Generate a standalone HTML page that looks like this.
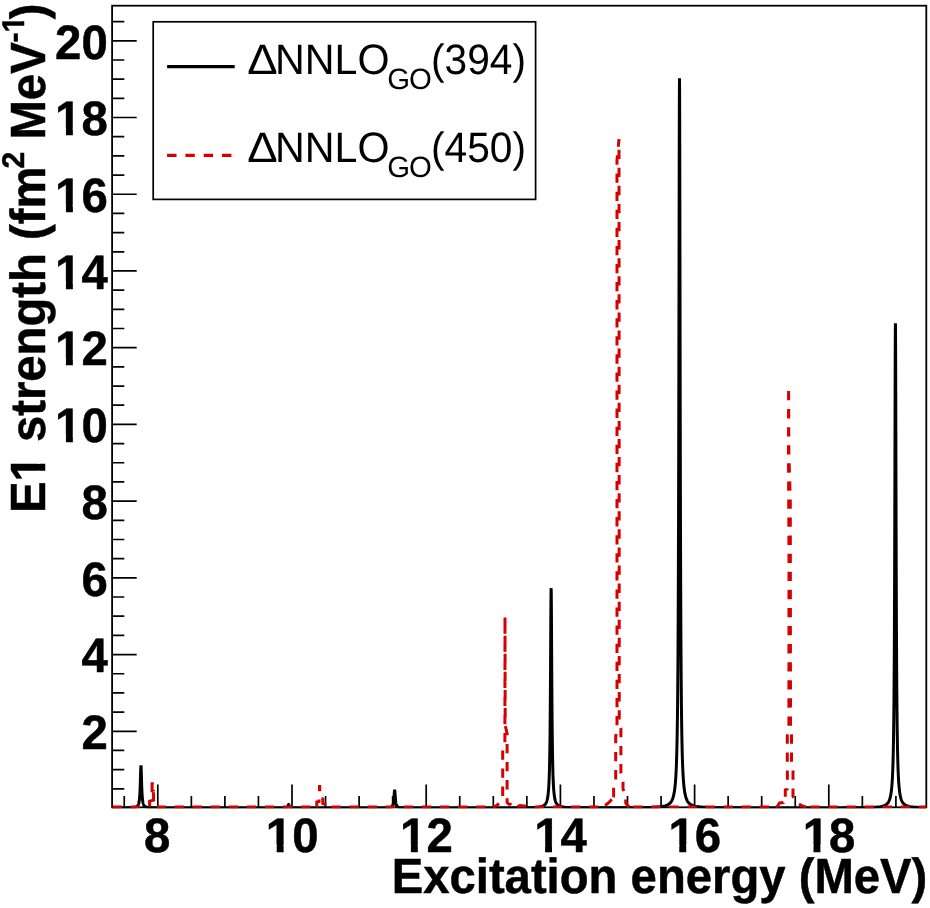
<!DOCTYPE html>
<html lang="en"><head><meta charset="utf-8"><title>E1 strength</title>
<style>
html,body{margin:0;padding:0;background:#fff;}
body{width:930px;height:908px;overflow:hidden;}
svg{display:block;will-change:transform;}
text{font-family:"Liberation Sans",Arial,Helvetica,sans-serif;fill:#000;text-rendering:geometricPrecision;}
.b{font-weight:700;}
</style></head><body>
<svg width="930" height="908" viewBox="0 0 930 908">
<rect x="0" y="0" width="930" height="908" fill="#fff"/>
<g stroke="#000" fill="none">
<rect x="112.10" y="5.70" width="814.20" height="801.60" stroke-width="1.80"/>
<path d="M124.25 807.30V796.10M157.80 807.30V784.50M191.35 807.30V796.10M224.90 807.30V796.10M258.45 807.30V796.10M292.00 807.30V784.50M325.55 807.30V796.10M359.10 807.30V796.10M392.65 807.30V796.10M426.20 807.30V784.50M459.75 807.30V796.10M493.30 807.30V796.10M526.85 807.30V796.10M560.40 807.30V784.50M593.95 807.30V796.10M627.50 807.30V796.10M661.05 807.30V796.10M694.60 807.30V784.50M728.15 807.30V796.10M761.70 807.30V796.10M795.25 807.30V796.10M828.80 807.30V784.50M862.35 807.30V796.10M895.90 807.30V796.10M112.10 788.82H124.30M112.10 769.64H124.30M112.10 750.46H124.30M112.10 731.28H136.70M112.10 712.10H124.30M112.10 692.92H124.30M112.10 673.74H124.30M112.10 654.56H136.70M112.10 635.38H124.30M112.10 616.20H124.30M112.10 597.02H124.30M112.10 577.84H136.70M112.10 558.66H124.30M112.10 539.48H124.30M112.10 520.30H124.30M112.10 501.12H136.70M112.10 481.94H124.30M112.10 462.76H124.30M112.10 443.58H124.30M112.10 424.40H136.70M112.10 405.22H124.30M112.10 386.04H124.30M112.10 366.86H124.30M112.10 347.68H136.70M112.10 328.50H124.30M112.10 309.32H124.30M112.10 290.14H124.30M112.10 270.96H136.70M112.10 251.78H124.30M112.10 232.60H124.30M112.10 213.42H124.30M112.10 194.24H136.70M112.10 175.06H124.30M112.10 155.88H124.30M112.10 136.70H124.30M112.10 117.52H136.70M112.10 98.34H124.30M112.10 79.16H124.30M112.10 59.98H124.30M112.10 40.80H136.70M112.10 21.62H124.30" stroke-width="1.7"/>
</g>
<clipPath id="cp"><rect x="111.20" y="4.80" width="816.00" height="803.45"/></clipPath>
<g fill="none" stroke-linejoin="miter" stroke-miterlimit="2" clip-path="url(#cp)">
<path d="M112.10 807.97 L113.10 807.96 L114.10 807.96 L115.10 807.96 L116.10 807.96 L117.10 807.95 L118.10 807.95 L119.10 807.94 L120.10 807.94 L121.10 807.93 L122.10 807.92 L123.10 807.92 L124.10 807.91 L125.10 807.89 L126.10 807.88 L126.96 807.87 L127.06 807.86 L127.10 807.86 L127.16 807.86 L127.26 807.86 L127.36 807.86 L127.46 807.86 L127.56 807.85 L127.66 807.85 L127.76 807.85 L127.86 807.85 L127.96 807.84 L128.06 807.84 L128.10 807.84 L128.16 807.84 L128.26 807.84 L128.36 807.84 L128.46 807.83 L128.56 807.83 L128.66 807.83 L128.76 807.82 L128.86 807.82 L128.96 807.82 L129.06 807.82 L129.10 807.81 L129.16 807.81 L129.26 807.81 L129.36 807.81 L129.46 807.80 L129.56 807.80 L129.66 807.80 L129.76 807.79 L129.86 807.79 L129.96 807.78 L130.06 807.78 L130.10 807.78 L130.16 807.78 L130.26 807.77 L130.36 807.77 L130.46 807.76 L130.56 807.76 L130.66 807.76 L130.76 807.75 L130.86 807.75 L130.96 807.74 L131.06 807.74 L131.10 807.73 L131.16 807.73 L131.26 807.72 L131.36 807.72 L131.46 807.71 L131.56 807.71 L131.66 807.70 L131.76 807.69 L131.86 807.69 L131.96 807.68 L132.06 807.67 L132.10 807.67 L132.16 807.67 L132.26 807.66 L132.36 807.65 L132.46 807.64 L132.56 807.63 L132.66 807.63 L132.76 807.62 L132.86 807.61 L132.96 807.60 L133.06 807.59 L133.10 807.58 L133.16 807.58 L133.26 807.57 L133.36 807.56 L133.46 807.54 L133.56 807.53 L133.66 807.52 L133.76 807.51 L133.86 807.49 L133.96 807.48 L134.06 807.46 L134.10 807.46 L134.16 807.45 L134.26 807.43 L134.36 807.41 L134.46 807.40 L134.56 807.38 L134.66 807.36 L134.76 807.34 L134.86 807.31 L134.96 807.29 L135.06 807.27 L135.10 807.26 L135.16 807.24 L135.26 807.22 L135.36 807.19 L135.46 807.16 L135.56 807.13 L135.66 807.10 L135.76 807.06 L135.86 807.03 L135.96 806.99 L136.06 806.95 L136.10 806.93 L136.16 806.91 L136.26 806.86 L136.36 806.81 L136.46 806.76 L136.56 806.70 L136.66 806.65 L136.76 806.58 L136.86 806.52 L136.96 806.44 L137.06 806.37 L137.10 806.33 L137.16 806.28 L137.26 806.19 L137.36 806.10 L137.46 805.99 L137.56 805.88 L137.66 805.75 L137.76 805.62 L137.86 805.47 L137.96 805.31 L138.06 805.14 L138.10 805.06 L138.16 804.94 L138.26 804.73 L138.36 804.49 L138.46 804.23 L138.56 803.94 L138.66 803.62 L138.76 803.26 L138.86 802.85 L138.96 802.40 L139.06 801.88 L139.10 801.64 L139.16 801.29 L139.26 800.62 L139.36 799.85 L139.46 798.96 L139.56 797.94 L139.66 796.76 L139.76 795.39 L139.86 793.79 L139.96 791.93 L140.06 789.77 L140.10 788.77 L140.16 787.29 L140.26 784.45 L140.36 781.28 L140.46 777.85 L140.56 774.31 L140.66 770.92 L140.76 768.05 L140.86 766.11 L140.96 765.42 L141.06 766.11 L141.10 766.79 L141.16 768.06 L141.26 770.93 L141.36 774.32 L141.46 777.86 L141.56 781.29 L141.66 784.46 L141.76 787.29 L141.86 789.78 L141.96 791.93 L142.06 793.79 L142.10 794.49 L142.16 795.39 L142.26 796.76 L142.36 797.94 L142.46 798.96 L142.56 799.85 L142.66 800.62 L142.76 801.29 L142.86 801.88 L142.96 802.40 L143.06 802.85 L143.10 803.03 L143.16 803.26 L143.26 803.62 L143.36 803.94 L143.46 804.23 L143.56 804.49 L143.66 804.73 L143.76 804.94 L143.86 805.14 L143.96 805.31 L144.06 805.47 L144.10 805.54 L144.16 805.62 L144.26 805.75 L144.36 805.88 L144.46 805.99 L144.56 806.10 L144.66 806.19 L144.76 806.28 L144.86 806.37 L144.96 806.44 L145.06 806.52 L145.10 806.54 L145.16 806.58 L145.26 806.65 L145.36 806.70 L145.46 806.76 L145.56 806.81 L145.66 806.86 L145.76 806.91 L145.86 806.95 L145.96 806.99 L146.06 807.03 L146.10 807.04 L146.16 807.06 L146.26 807.10 L146.36 807.13 L146.46 807.16 L146.56 807.19 L146.66 807.22 L146.76 807.24 L146.86 807.27 L146.96 807.29 L147.06 807.31 L147.10 807.32 L147.16 807.34 L147.26 807.36 L147.36 807.38 L147.46 807.39 L147.56 807.41 L147.66 807.43 L147.76 807.45 L147.86 807.46 L147.96 807.48 L148.06 807.49 L148.10 807.50 L148.16 807.50 L148.26 807.52 L148.36 807.53 L148.46 807.54 L148.56 807.55 L148.66 807.57 L148.76 807.58 L148.86 807.59 L148.96 807.60 L149.06 807.61 L149.10 807.61 L149.16 807.62 L149.26 807.63 L149.36 807.63 L149.46 807.64 L149.56 807.65 L149.66 807.66 L149.76 807.67 L149.86 807.67 L149.96 807.68 L150.06 807.69 L150.10 807.69 L150.16 807.69 L150.26 807.70 L150.36 807.71 L150.46 807.71 L150.56 807.72 L150.66 807.72 L150.76 807.73 L150.86 807.74 L150.96 807.74 L151.06 807.75 L151.10 807.75 L151.16 807.75 L151.26 807.75 L151.36 807.76 L151.46 807.76 L151.56 807.77 L151.66 807.77 L151.76 807.78 L151.86 807.78 L151.96 807.78 L152.06 807.79 L152.10 807.79 L152.16 807.79 L152.26 807.80 L152.36 807.80 L152.46 807.80 L152.56 807.81 L152.66 807.81 L152.76 807.81 L152.86 807.82 L152.96 807.82 L153.06 807.82 L153.10 807.82 L153.16 807.82 L153.26 807.83 L153.36 807.83 L153.46 807.83 L153.56 807.83 L153.66 807.84 L153.76 807.84 L153.86 807.84 L153.96 807.84 L154.06 807.85 L154.10 807.85 L154.16 807.85 L154.26 807.85 L154.36 807.85 L154.46 807.86 L154.56 807.86 L154.66 807.86 L154.76 807.86 L154.86 807.86 L154.96 807.87 L155.10 807.87 L156.10 807.88 L157.10 807.90 L158.10 807.91 L159.10 807.92 L160.10 807.93 L161.10 807.93 L162.10 807.94 L163.10 807.94 L164.10 807.95 L165.10 807.95 L166.10 807.96 L167.10 807.96 L168.10 807.96 L169.10 807.96 L170.10 807.97 L171.10 807.97 L172.10 807.97 L173.10 807.97 L174.10 807.97 L175.10 807.97 L176.10 807.98 L177.10 807.98 L178.10 807.98 L179.10 807.98 L180.10 807.98 L181.10 807.98 L182.10 807.98 L183.10 807.98 L184.10 807.98 L185.10 807.98 L186.10 807.98 L187.10 807.98 L188.10 807.98 L189.10 807.98 L190.10 807.99 L191.10 807.99 L192.10 807.99 L193.10 807.99 L194.10 807.99 L195.10 807.99 L196.10 807.99 L197.10 807.99 L198.10 807.99 L199.10 807.99 L200.10 807.99 L201.10 807.99 L202.10 807.99 L203.10 807.99 L204.10 807.99 L205.10 807.99 L206.10 807.99 L207.10 807.99 L208.10 807.99 L209.10 807.99 L210.10 807.99 L211.10 807.99 L212.10 807.99 L213.10 807.99 L214.10 807.99 L215.10 807.99 L216.10 807.99 L217.10 807.99 L218.10 807.99 L219.10 807.99 L220.10 807.99 L221.10 807.99 L222.10 807.99 L223.10 807.99 L224.10 807.99 L225.10 807.99 L226.10 807.99 L227.10 807.99 L228.10 807.99 L229.10 807.99 L230.10 807.99 L231.10 807.99 L232.10 807.99 L233.10 807.99 L234.10 807.99 L235.10 807.99 L236.10 807.99 L237.10 807.99 L238.10 807.99 L239.10 807.99 L240.10 807.99 L241.10 807.99 L242.10 807.99 L243.10 807.99 L244.10 807.99 L245.10 807.99 L246.10 807.99 L247.10 807.99 L248.10 807.99 L249.10 807.99 L250.10 807.99 L251.10 807.99 L252.10 807.99 L253.10 807.99 L254.10 807.99 L255.10 807.99 L256.10 807.99 L257.10 807.99 L258.10 807.99 L259.10 807.99 L260.10 807.99 L261.10 807.99 L262.10 807.99 L263.10 807.99 L264.10 807.99 L265.10 807.99 L266.10 807.99 L267.10 807.99 L268.10 807.99 L269.10 807.99 L270.10 807.99 L271.10 807.99 L272.10 807.99 L273.10 807.98 L274.10 807.98 L274.64 807.98 L274.75 807.98 L274.85 807.98 L274.94 807.98 L275.05 807.98 L275.10 807.98 L275.14 807.98 L275.25 807.98 L275.35 807.98 L275.44 807.98 L275.55 807.98 L275.64 807.98 L275.75 807.98 L275.85 807.98 L275.94 807.98 L276.05 807.98 L276.10 807.98 L276.14 807.98 L276.25 807.98 L276.35 807.98 L276.44 807.98 L276.55 807.98 L276.64 807.98 L276.75 807.98 L276.85 807.98 L276.94 807.98 L277.05 807.98 L277.10 807.98 L277.14 807.98 L277.25 807.98 L277.35 807.98 L277.44 807.98 L277.55 807.98 L277.64 807.98 L277.75 807.98 L277.85 807.97 L277.94 807.97 L278.05 807.97 L278.10 807.97 L278.14 807.97 L278.25 807.97 L278.35 807.97 L278.44 807.97 L278.55 807.97 L278.64 807.97 L278.75 807.97 L278.85 807.97 L278.94 807.97 L279.05 807.97 L279.10 807.97 L279.14 807.97 L279.25 807.97 L279.35 807.97 L279.44 807.97 L279.55 807.97 L279.64 807.97 L279.75 807.97 L279.85 807.97 L279.94 807.97 L280.05 807.96 L280.10 807.96 L280.14 807.96 L280.25 807.96 L280.35 807.96 L280.44 807.96 L280.55 807.96 L280.64 807.96 L280.75 807.96 L280.85 807.96 L280.94 807.96 L281.05 807.96 L281.10 807.96 L281.14 807.96 L281.25 807.95 L281.35 807.95 L281.44 807.95 L281.55 807.95 L281.64 807.95 L281.75 807.95 L281.85 807.95 L281.94 807.95 L282.05 807.95 L282.10 807.94 L282.14 807.94 L282.25 807.94 L282.35 807.94 L282.44 807.94 L282.55 807.94 L282.64 807.94 L282.75 807.93 L282.85 807.93 L282.94 807.93 L283.05 807.93 L283.10 807.93 L283.14 807.92 L283.25 807.92 L283.35 807.92 L283.44 807.92 L283.55 807.91 L283.64 807.91 L283.75 807.91 L283.85 807.90 L283.94 807.90 L284.05 807.90 L284.10 807.89 L284.14 807.89 L284.25 807.89 L284.35 807.88 L284.44 807.88 L284.55 807.87 L284.64 807.87 L284.75 807.86 L284.85 807.85 L284.94 807.85 L285.05 807.84 L285.10 807.83 L285.14 807.83 L285.25 807.82 L285.35 807.81 L285.44 807.80 L285.55 807.79 L285.64 807.77 L285.75 807.76 L285.85 807.74 L285.94 807.73 L286.05 807.71 L286.10 807.70 L286.14 807.69 L286.25 807.66 L286.35 807.64 L286.44 807.61 L286.55 807.58 L286.64 807.54 L286.75 807.50 L286.85 807.45 L286.94 807.39 L287.05 807.33 L287.10 807.29 L287.14 807.26 L287.25 807.18 L287.35 807.08 L287.44 806.97 L287.55 806.84 L287.64 806.69 L287.75 806.51 L287.85 806.31 L287.94 806.08 L288.05 805.83 L288.10 805.68 L288.14 805.55 L288.25 805.26 L288.35 804.99 L288.44 804.75 L288.55 804.60 L288.64 804.54 L288.75 804.60 L288.85 804.75 L288.94 804.99 L289.05 805.26 L289.10 805.42 L289.14 805.55 L289.25 805.83 L289.35 806.08 L289.44 806.31 L289.55 806.51 L289.64 806.69 L289.75 806.84 L289.85 806.97 L289.94 807.08 L290.05 807.18 L290.10 807.22 L290.14 807.26 L290.25 807.33 L290.35 807.39 L290.44 807.45 L290.55 807.50 L290.64 807.54 L290.75 807.58 L290.85 807.61 L290.94 807.64 L291.05 807.66 L291.10 807.68 L291.14 807.69 L291.25 807.71 L291.35 807.73 L291.44 807.74 L291.55 807.76 L291.64 807.77 L291.75 807.79 L291.85 807.80 L291.94 807.81 L292.05 807.82 L292.10 807.83 L292.14 807.83 L292.25 807.84 L292.35 807.85 L292.44 807.85 L292.55 807.86 L292.64 807.87 L292.75 807.87 L292.85 807.88 L292.94 807.88 L293.05 807.89 L293.10 807.89 L293.14 807.89 L293.25 807.90 L293.35 807.90 L293.44 807.90 L293.55 807.91 L293.64 807.91 L293.75 807.91 L293.85 807.92 L293.94 807.92 L294.05 807.92 L294.10 807.92 L294.14 807.92 L294.25 807.93 L294.35 807.93 L294.44 807.93 L294.55 807.93 L294.64 807.93 L294.75 807.94 L294.85 807.94 L294.94 807.94 L295.05 807.94 L295.10 807.94 L295.14 807.94 L295.25 807.94 L295.35 807.95 L295.44 807.95 L295.55 807.95 L295.64 807.95 L295.75 807.95 L295.85 807.95 L295.94 807.95 L296.05 807.95 L296.10 807.95 L296.14 807.96 L296.25 807.96 L296.35 807.96 L296.44 807.96 L296.55 807.96 L296.64 807.96 L296.75 807.96 L296.85 807.96 L296.94 807.96 L297.05 807.96 L297.10 807.96 L297.14 807.96 L297.25 807.96 L297.35 807.96 L297.44 807.97 L297.55 807.97 L297.64 807.97 L297.75 807.97 L297.85 807.97 L297.94 807.97 L298.05 807.97 L298.10 807.97 L298.14 807.97 L298.25 807.97 L298.35 807.97 L298.44 807.97 L298.55 807.97 L298.64 807.97 L298.75 807.97 L298.85 807.97 L298.94 807.97 L299.05 807.97 L299.10 807.97 L299.14 807.97 L299.25 807.97 L299.35 807.97 L299.44 807.97 L299.55 807.97 L299.64 807.97 L299.75 807.97 L299.85 807.98 L299.94 807.98 L300.05 807.98 L300.10 807.98 L300.14 807.98 L300.25 807.98 L300.35 807.98 L300.44 807.98 L300.55 807.98 L300.64 807.98 L300.75 807.98 L300.85 807.98 L300.94 807.98 L301.05 807.98 L301.10 807.98 L301.14 807.98 L301.25 807.98 L301.35 807.98 L301.44 807.98 L301.55 807.98 L301.64 807.98 L301.75 807.98 L301.85 807.98 L301.94 807.98 L302.05 807.98 L302.10 807.98 L302.14 807.98 L302.25 807.98 L302.35 807.98 L302.44 807.98 L302.55 807.98 L302.64 807.98 L303.10 807.98 L304.10 807.98 L305.10 807.98 L306.10 807.98 L307.10 807.99 L308.10 807.99 L309.10 807.99 L310.10 807.99 L311.10 807.99 L312.10 807.99 L313.10 807.99 L314.10 807.99 L315.10 807.99 L316.10 807.99 L317.10 807.99 L318.10 807.99 L319.10 807.99 L320.10 807.99 L321.10 807.99 L322.10 807.99 L323.10 807.99 L324.10 807.99 L325.10 807.99 L326.10 807.99 L327.10 807.99 L328.10 807.99 L329.10 807.99 L330.10 807.99 L331.10 807.99 L332.10 807.99 L333.10 807.99 L334.10 807.99 L335.10 807.99 L336.10 807.99 L337.10 807.99 L338.10 807.99 L339.10 807.99 L340.10 807.99 L341.10 807.99 L342.10 807.99 L343.10 807.99 L344.10 807.99 L345.10 807.99 L346.10 807.99 L347.10 807.99 L348.10 807.99 L349.10 807.99 L350.10 807.99 L351.10 807.98 L352.10 807.98 L353.10 807.98 L354.10 807.98 L355.10 807.98 L356.10 807.98 L357.10 807.98 L358.10 807.98 L359.10 807.98 L360.10 807.98 L361.10 807.98 L362.10 807.98 L363.10 807.98 L364.10 807.98 L365.10 807.98 L366.10 807.98 L367.10 807.98 L368.10 807.97 L369.10 807.97 L370.10 807.97 L371.10 807.97 L372.10 807.97 L373.10 807.97 L374.10 807.96 L375.10 807.96 L376.10 807.96 L377.10 807.95 L378.10 807.95 L379.10 807.94 L380.10 807.94 L380.66 807.93 L380.76 807.93 L380.86 807.93 L380.96 807.93 L381.06 807.93 L381.10 807.93 L381.16 807.93 L381.26 807.93 L381.36 807.93 L381.46 807.93 L381.56 807.93 L381.66 807.92 L381.76 807.92 L381.86 807.92 L381.96 807.92 L382.06 807.92 L382.10 807.92 L382.16 807.92 L382.26 807.92 L382.36 807.92 L382.46 807.92 L382.56 807.91 L382.66 807.91 L382.76 807.91 L382.86 807.91 L382.96 807.91 L383.06 807.91 L383.10 807.91 L383.16 807.91 L383.26 807.90 L383.36 807.90 L383.46 807.90 L383.56 807.90 L383.66 807.90 L383.76 807.90 L383.86 807.90 L383.96 807.89 L384.06 807.89 L384.10 807.89 L384.16 807.89 L384.26 807.89 L384.36 807.89 L384.46 807.88 L384.56 807.88 L384.66 807.88 L384.76 807.88 L384.86 807.88 L384.96 807.87 L385.06 807.87 L385.10 807.87 L385.16 807.87 L385.26 807.87 L385.36 807.86 L385.46 807.86 L385.56 807.86 L385.66 807.85 L385.76 807.85 L385.86 807.85 L385.96 807.85 L386.06 807.84 L386.10 807.84 L386.16 807.84 L386.26 807.83 L386.36 807.83 L386.46 807.83 L386.56 807.82 L386.66 807.82 L386.76 807.81 L386.86 807.81 L386.96 807.81 L387.06 807.80 L387.10 807.80 L387.16 807.80 L387.26 807.79 L387.36 807.79 L387.46 807.78 L387.56 807.77 L387.66 807.77 L387.76 807.76 L387.86 807.75 L387.96 807.75 L388.06 807.74 L388.10 807.74 L388.16 807.73 L388.26 807.73 L388.36 807.72 L388.46 807.71 L388.56 807.70 L388.66 807.69 L388.76 807.68 L388.86 807.67 L388.96 807.66 L389.06 807.65 L389.10 807.64 L389.16 807.63 L389.26 807.62 L389.36 807.61 L389.46 807.59 L389.56 807.58 L389.66 807.56 L389.76 807.54 L389.86 807.53 L389.96 807.51 L390.06 807.49 L390.10 807.48 L390.16 807.46 L390.26 807.44 L390.36 807.42 L390.46 807.39 L390.56 807.36 L390.66 807.33 L390.76 807.30 L390.86 807.26 L390.96 807.22 L391.06 807.18 L391.10 807.17 L391.16 807.14 L391.26 807.09 L391.36 807.04 L391.46 806.98 L391.56 806.92 L391.66 806.85 L391.76 806.78 L391.86 806.69 L391.96 806.60 L392.06 806.50 L392.10 806.47 L392.16 806.39 L392.26 806.27 L392.36 806.13 L392.46 805.98 L392.56 805.81 L392.66 805.62 L392.76 805.40 L392.86 805.15 L392.96 804.86 L393.06 804.54 L393.10 804.40 L393.16 804.16 L393.26 803.73 L393.36 803.23 L393.46 802.65 L393.56 801.97 L393.66 801.19 L393.76 800.27 L393.86 799.22 L393.96 798.02 L394.06 796.68 L394.10 796.15 L394.16 795.22 L394.26 793.72 L394.36 792.29 L394.46 791.07 L394.56 790.25 L394.66 789.96 L394.76 790.25 L394.86 791.07 L394.96 792.29 L395.06 793.72 L395.10 794.28 L395.16 795.22 L395.26 796.68 L395.36 798.02 L395.46 799.22 L395.56 800.27 L395.66 801.19 L395.76 801.97 L395.86 802.65 L395.96 803.23 L396.06 803.73 L396.10 803.90 L396.16 804.16 L396.26 804.54 L396.36 804.86 L396.46 805.15 L396.56 805.40 L396.66 805.62 L396.76 805.81 L396.86 805.98 L396.96 806.13 L397.06 806.27 L397.10 806.32 L397.16 806.39 L397.26 806.50 L397.36 806.60 L397.46 806.69 L397.56 806.78 L397.66 806.85 L397.76 806.92 L397.86 806.98 L397.96 807.04 L398.06 807.09 L398.10 807.11 L398.16 807.14 L398.26 807.18 L398.36 807.22 L398.46 807.26 L398.56 807.30 L398.66 807.33 L398.76 807.36 L398.86 807.39 L398.96 807.41 L399.06 807.44 L399.10 807.45 L399.16 807.46 L399.26 807.49 L399.36 807.51 L399.46 807.52 L399.56 807.54 L399.66 807.56 L399.76 807.58 L399.86 807.59 L399.96 807.61 L400.06 807.62 L400.10 807.62 L400.16 807.63 L400.26 807.65 L400.36 807.66 L400.46 807.67 L400.56 807.68 L400.66 807.69 L400.76 807.70 L400.86 807.71 L400.96 807.72 L401.06 807.72 L401.10 807.73 L401.16 807.73 L401.26 807.74 L401.36 807.75 L401.46 807.75 L401.56 807.76 L401.66 807.77 L401.76 807.77 L401.86 807.78 L401.96 807.78 L402.06 807.79 L402.10 807.79 L402.16 807.79 L402.26 807.80 L402.36 807.80 L402.46 807.81 L402.56 807.81 L402.66 807.82 L402.76 807.82 L402.86 807.83 L402.96 807.83 L403.06 807.83 L403.10 807.83 L403.16 807.84 L403.26 807.84 L403.36 807.84 L403.46 807.85 L403.56 807.85 L403.66 807.85 L403.76 807.86 L403.86 807.86 L403.96 807.86 L404.06 807.86 L404.10 807.86 L404.16 807.87 L404.26 807.87 L404.36 807.87 L404.46 807.87 L404.56 807.88 L404.66 807.88 L404.76 807.88 L404.86 807.88 L404.96 807.88 L405.06 807.89 L405.10 807.89 L405.16 807.89 L405.26 807.89 L405.36 807.89 L405.46 807.89 L405.56 807.89 L405.66 807.90 L405.76 807.90 L405.86 807.90 L405.96 807.90 L406.06 807.90 L406.10 807.90 L406.16 807.90 L406.26 807.91 L406.36 807.91 L406.46 807.91 L406.56 807.91 L406.66 807.91 L406.76 807.91 L406.86 807.91 L406.96 807.91 L407.06 807.92 L407.10 807.92 L407.16 807.92 L407.26 807.92 L407.36 807.92 L407.46 807.92 L407.56 807.92 L407.66 807.92 L407.76 807.92 L407.86 807.92 L407.96 807.92 L408.06 807.93 L408.10 807.93 L408.16 807.93 L408.26 807.93 L408.36 807.93 L408.46 807.93 L408.56 807.93 L408.66 807.93 L409.10 807.93 L410.10 807.94 L411.10 807.94 L412.10 807.95 L413.10 807.95 L414.10 807.96 L415.10 807.96 L416.10 807.96 L417.10 807.96 L418.10 807.96 L419.10 807.97 L420.10 807.97 L421.10 807.97 L422.10 807.97 L423.10 807.97 L424.10 807.97 L425.10 807.97 L426.10 807.97 L427.10 807.97 L428.10 807.97 L429.10 807.97 L430.10 807.97 L431.10 807.97 L432.10 807.97 L433.10 807.97 L434.10 807.97 L435.10 807.97 L436.10 807.97 L437.10 807.97 L438.10 807.97 L439.10 807.97 L440.10 807.97 L441.10 807.97 L442.10 807.97 L443.10 807.97 L444.10 807.97 L445.10 807.97 L446.10 807.97 L447.10 807.97 L448.10 807.97 L449.10 807.97 L450.10 807.97 L451.10 807.97 L452.10 807.97 L453.10 807.97 L454.10 807.97 L455.10 807.97 L456.10 807.97 L457.10 807.97 L458.10 807.97 L459.10 807.97 L460.10 807.97 L461.10 807.97 L462.10 807.97 L463.10 807.97 L464.10 807.97 L465.10 807.97 L466.10 807.97 L467.10 807.97 L468.10 807.97 L469.10 807.97 L470.10 807.97 L471.10 807.97 L472.10 807.96 L473.10 807.96 L474.10 807.96 L475.10 807.96 L476.10 807.96 L477.10 807.96 L478.10 807.96 L479.10 807.96 L480.10 807.96 L481.10 807.96 L482.10 807.96 L483.10 807.96 L484.10 807.96 L485.10 807.95 L486.10 807.95 L487.10 807.95 L488.10 807.95 L489.10 807.95 L490.10 807.95 L491.10 807.95 L492.10 807.95 L493.10 807.94 L494.10 807.94 L495.10 807.94 L496.10 807.94 L497.10 807.94 L498.10 807.94 L499.10 807.93 L500.10 807.93 L501.10 807.93 L502.10 807.93 L503.10 807.93 L504.10 807.92 L505.10 807.92 L506.10 807.92 L507.10 807.91 L508.10 807.91 L509.10 807.91 L510.10 807.90 L511.10 807.90 L512.10 807.89 L513.10 807.89 L514.10 807.88 L515.10 807.88 L516.10 807.87 L517.10 807.87 L518.10 807.86 L519.10 807.85 L520.10 807.84 L521.10 807.83 L522.10 807.82 L523.10 807.81 L524.10 807.80 L525.10 807.78 L526.10 807.77 L527.10 807.75 L528.10 807.73 L529.10 807.70 L530.10 807.68 L531.10 807.65 L532.10 807.61 L533.10 807.57 L534.10 807.52 L535.10 807.46 L536.10 807.39 L537.10 807.30 L537.14 807.30 L537.24 807.29 L537.34 807.28 L537.44 807.27 L537.54 807.26 L537.64 807.25 L537.74 807.24 L537.84 807.22 L537.94 807.21 L538.04 807.20 L538.10 807.19 L538.14 807.19 L538.24 807.18 L538.34 807.17 L538.44 807.15 L538.54 807.14 L538.64 807.13 L538.74 807.11 L538.84 807.10 L538.94 807.08 L539.04 807.07 L539.10 807.06 L539.14 807.05 L539.24 807.04 L539.34 807.02 L539.44 807.01 L539.54 806.99 L539.64 806.97 L539.74 806.95 L539.84 806.94 L539.94 806.92 L540.04 806.90 L540.10 806.89 L540.14 806.88 L540.24 806.86 L540.34 806.84 L540.44 806.82 L540.54 806.80 L540.64 806.77 L540.74 806.75 L540.84 806.73 L540.94 806.70 L541.04 806.68 L541.10 806.66 L541.14 806.65 L541.24 806.62 L541.34 806.60 L541.44 806.57 L541.54 806.54 L541.64 806.51 L541.74 806.48 L541.84 806.44 L541.94 806.41 L542.04 806.38 L542.10 806.36 L542.14 806.34 L542.24 806.31 L542.34 806.27 L542.44 806.23 L542.54 806.19 L542.64 806.15 L542.74 806.10 L542.84 806.06 L542.94 806.01 L543.04 805.96 L543.10 805.93 L543.14 805.91 L543.24 805.86 L543.34 805.81 L543.44 805.75 L543.54 805.69 L543.64 805.63 L543.74 805.57 L543.84 805.50 L543.94 805.43 L544.04 805.36 L544.10 805.32 L544.14 805.29 L544.24 805.21 L544.34 805.13 L544.44 805.05 L544.54 804.96 L544.64 804.87 L544.74 804.77 L544.84 804.67 L544.94 804.56 L545.04 804.45 L545.10 804.38 L545.14 804.33 L545.24 804.21 L545.34 804.08 L545.44 803.95 L545.54 803.81 L545.64 803.66 L545.74 803.50 L545.84 803.33 L545.94 803.16 L546.04 802.97 L546.10 802.85 L546.14 802.77 L546.24 802.56 L546.34 802.34 L546.44 802.11 L546.54 801.85 L546.64 801.59 L546.74 801.30 L546.84 801.00 L546.94 800.67 L547.04 800.33 L547.10 800.11 L547.14 799.95 L547.24 799.55 L547.34 799.12 L547.44 798.66 L547.54 798.16 L547.64 797.61 L547.74 797.03 L547.84 796.39 L547.94 795.69 L548.04 794.94 L548.10 794.45 L548.14 794.11 L548.24 793.20 L548.34 792.21 L548.44 791.11 L548.54 789.89 L548.64 788.55 L548.74 787.06 L548.84 785.39 L548.94 783.52 L549.04 781.43 L549.10 780.04 L549.14 779.06 L549.24 776.39 L549.34 773.35 L549.44 769.89 L549.54 765.92 L549.64 761.35 L549.74 756.08 L549.84 749.98 L549.94 742.89 L550.04 734.65 L550.10 729.07 L550.14 725.07 L550.24 713.94 L550.34 701.11 L550.44 686.48 L550.54 670.13 L550.64 652.41 L550.74 634.12 L550.84 616.63 L550.94 601.81 L551.04 591.75 L551.10 588.75 L551.14 588.17 L551.24 591.72 L551.34 601.76 L551.44 616.56 L551.54 634.05 L551.64 652.34 L551.74 670.06 L551.84 686.42 L551.94 701.05 L552.04 713.89 L552.10 720.77 L552.14 725.02 L552.24 734.62 L552.34 742.86 L552.44 749.95 L552.54 756.06 L552.64 761.33 L552.74 765.90 L552.84 769.87 L552.94 773.34 L553.04 776.38 L553.10 778.02 L553.14 779.05 L553.24 781.42 L553.34 783.51 L553.44 785.38 L553.54 787.05 L553.64 788.54 L553.74 789.89 L553.84 791.10 L553.94 792.20 L554.04 793.20 L554.10 793.75 L554.14 794.10 L554.24 794.93 L554.34 795.69 L554.44 796.38 L554.54 797.02 L554.64 797.61 L554.74 798.15 L554.84 798.65 L554.94 799.12 L555.04 799.55 L555.10 799.79 L555.14 799.95 L555.24 800.32 L555.34 800.67 L555.44 800.99 L555.54 801.30 L555.64 801.58 L555.74 801.85 L555.84 802.10 L555.94 802.34 L556.04 802.56 L556.10 802.68 L556.14 802.77 L556.24 802.96 L556.34 803.15 L556.44 803.33 L556.54 803.49 L556.64 803.65 L556.74 803.80 L556.84 803.94 L556.94 804.08 L557.04 804.21 L557.10 804.28 L557.14 804.33 L557.24 804.45 L557.34 804.56 L557.44 804.66 L557.54 804.76 L557.64 804.86 L557.74 804.95 L557.84 805.04 L557.94 805.12 L558.04 805.20 L558.10 805.25 L558.14 805.28 L558.24 805.36 L558.34 805.43 L558.44 805.50 L558.54 805.56 L558.64 805.62 L558.74 805.68 L558.84 805.74 L558.94 805.80 L559.04 805.85 L559.10 805.88 L559.14 805.91 L559.24 805.96 L559.34 806.00 L559.44 806.05 L559.54 806.09 L559.64 806.14 L559.74 806.18 L559.84 806.22 L559.94 806.26 L560.04 806.30 L560.10 806.32 L560.14 806.33 L560.24 806.37 L560.34 806.40 L560.44 806.44 L560.54 806.47 L560.64 806.50 L560.74 806.53 L560.84 806.56 L560.94 806.59 L561.04 806.61 L561.10 806.63 L561.14 806.64 L561.24 806.67 L561.34 806.69 L561.44 806.72 L561.54 806.74 L561.64 806.76 L561.74 806.79 L561.84 806.81 L561.94 806.83 L562.04 806.85 L562.10 806.86 L562.14 806.87 L562.24 806.89 L562.34 806.91 L562.44 806.93 L562.54 806.94 L562.64 806.96 L562.74 806.98 L562.84 807.00 L562.94 807.01 L563.04 807.03 L563.10 807.04 L563.14 807.04 L563.24 807.06 L563.34 807.07 L563.44 807.09 L563.54 807.10 L563.64 807.11 L563.74 807.13 L563.84 807.14 L563.94 807.15 L564.04 807.17 L564.10 807.17 L564.14 807.18 L564.24 807.19 L564.34 807.20 L564.44 807.21 L564.54 807.22 L564.64 807.23 L564.74 807.25 L564.84 807.26 L564.94 807.27 L565.04 807.28 L565.10 807.28 L565.14 807.29 L566.10 807.37 L567.10 807.44 L568.10 807.50 L569.10 807.55 L570.10 807.59 L571.10 807.63 L572.10 807.66 L573.10 807.68 L574.10 807.70 L575.10 807.72 L576.10 807.74 L577.10 807.76 L578.10 807.77 L579.10 807.78 L580.10 807.79 L581.10 807.80 L582.10 807.81 L583.10 807.82 L584.10 807.83 L585.10 807.83 L586.10 807.84 L587.10 807.84 L588.10 807.85 L589.10 807.85 L590.10 807.85 L591.10 807.86 L592.10 807.86 L593.10 807.86 L594.10 807.86 L595.10 807.87 L596.10 807.87 L597.10 807.87 L598.10 807.87 L599.10 807.87 L600.10 807.87 L601.10 807.87 L602.10 807.87 L603.10 807.87 L604.10 807.87 L605.10 807.87 L606.10 807.87 L607.10 807.87 L608.10 807.87 L609.10 807.87 L610.10 807.87 L611.10 807.86 L612.10 807.86 L613.10 807.86 L614.10 807.86 L615.10 807.86 L616.10 807.85 L617.10 807.85 L618.10 807.85 L619.10 807.85 L620.10 807.84 L621.10 807.84 L622.10 807.84 L623.10 807.83 L624.10 807.83 L625.10 807.82 L626.10 807.82 L627.10 807.81 L628.10 807.81 L629.10 807.80 L630.10 807.79 L631.10 807.79 L632.10 807.78 L633.10 807.77 L634.10 807.76 L635.10 807.75 L636.10 807.74 L637.10 807.73 L638.10 807.72 L639.10 807.71 L640.10 807.69 L641.10 807.68 L642.10 807.66 L643.10 807.65 L644.10 807.63 L645.10 807.61 L646.10 807.58 L647.10 807.56 L648.10 807.53 L649.10 807.50 L650.10 807.47 L651.10 807.43 L652.10 807.39 L653.10 807.35 L654.10 807.30 L655.10 807.24 L656.10 807.18 L657.10 807.10 L658.10 807.02 L659.10 806.92 L660.10 806.81 L661.10 806.68 L662.10 806.53 L663.10 806.34 L664.10 806.13 L665.10 805.86 L665.50 805.74 L665.60 805.70 L665.70 805.67 L665.80 805.64 L665.90 805.60 L666.00 805.57 L666.10 805.53 L666.10 805.53 L666.20 805.49 L666.30 805.46 L666.40 805.42 L666.50 805.38 L666.60 805.34 L666.70 805.30 L666.80 805.25 L666.90 805.21 L667.00 805.17 L667.10 805.12 L667.10 805.12 L667.20 805.07 L667.30 805.03 L667.40 804.98 L667.50 804.93 L667.60 804.88 L667.70 804.82 L667.80 804.77 L667.90 804.71 L668.00 804.66 L668.10 804.60 L668.10 804.60 L668.20 804.54 L668.30 804.48 L668.40 804.41 L668.50 804.35 L668.60 804.28 L668.70 804.21 L668.80 804.14 L668.90 804.07 L669.00 804.00 L669.10 803.92 L669.10 803.92 L669.20 803.84 L669.30 803.76 L669.40 803.68 L669.50 803.59 L669.60 803.50 L669.70 803.41 L669.80 803.32 L669.90 803.22 L670.00 803.12 L670.10 803.02 L670.10 803.02 L670.20 802.91 L670.30 802.80 L670.40 802.68 L670.50 802.57 L670.60 802.45 L670.70 802.32 L670.80 802.19 L670.90 802.06 L671.00 801.92 L671.10 801.78 L671.10 801.77 L671.20 801.62 L671.30 801.47 L671.40 801.31 L671.50 801.14 L671.60 800.97 L671.70 800.79 L671.80 800.60 L671.90 800.41 L672.00 800.21 L672.10 800.01 L672.10 800.00 L672.20 799.78 L672.30 799.56 L672.40 799.32 L672.50 799.07 L672.60 798.82 L672.70 798.55 L672.80 798.27 L672.90 797.97 L673.00 797.67 L673.10 797.36 L673.10 797.35 L673.20 797.02 L673.30 796.66 L673.40 796.29 L673.50 795.91 L673.60 795.50 L673.70 795.08 L673.80 794.63 L673.90 794.15 L674.00 793.66 L674.10 793.15 L674.10 793.13 L674.20 792.58 L674.30 791.99 L674.40 791.37 L674.50 790.72 L674.60 790.02 L674.70 789.30 L674.80 788.50 L674.90 787.67 L675.00 786.79 L675.10 785.87 L675.10 785.85 L675.20 784.84 L675.30 783.75 L675.40 782.60 L675.50 781.36 L675.60 780.04 L675.70 778.61 L675.80 777.06 L675.90 775.39 L676.00 773.59 L676.10 771.70 L676.10 771.66 L676.20 769.55 L676.30 767.22 L676.40 764.70 L676.50 761.95 L676.60 758.97 L676.70 755.67 L676.80 751.98 L676.90 747.95 L677.00 743.49 L677.10 738.68 L677.10 738.57 L677.20 733.04 L677.30 726.78 L677.40 719.82 L677.50 711.97 L677.60 703.09 L677.70 693.10 L677.80 681.48 L677.90 668.29 L678.00 653.12 L678.10 636.18 L678.10 635.62 L678.20 615.56 L678.30 591.80 L678.40 564.41 L678.50 532.55 L678.60 495.59 L678.70 453.41 L678.80 404.36 L678.90 350.04 L679.00 291.20 L679.10 232.32 L679.10 230.51 L679.20 173.02 L679.30 123.35 L679.40 90.11 L679.50 78.38 L679.60 90.34 L679.70 123.35 L679.80 173.02 L679.90 231.11 L680.00 291.80 L680.10 348.90 L680.10 350.61 L680.20 404.36 L680.30 453.41 L680.40 495.98 L680.50 532.89 L680.60 564.70 L680.70 591.80 L680.80 615.56 L680.90 635.81 L681.00 653.29 L681.10 668.01 L681.10 668.43 L681.20 681.48 L681.30 693.10 L681.40 703.18 L681.50 712.06 L681.60 719.90 L681.70 726.78 L681.80 733.04 L681.90 738.57 L682.00 743.53 L682.10 747.87 L682.10 748.00 L682.20 751.98 L682.30 755.67 L682.40 758.97 L682.50 761.98 L682.60 764.73 L682.70 767.22 L682.80 769.55 L682.90 771.66 L683.00 773.61 L683.10 775.36 L683.10 775.41 L683.20 777.06 L683.30 778.61 L683.40 780.04 L683.50 781.37 L683.60 782.61 L683.70 783.75 L683.80 784.84 L683.90 785.85 L684.00 786.80 L684.10 787.66 L684.10 787.68 L684.20 788.51 L684.30 789.30 L684.40 790.03 L684.50 790.73 L684.60 791.37 L684.70 791.99 L684.80 792.58 L684.90 793.14 L685.00 793.66 L685.10 794.15 L685.10 794.16 L685.20 794.63 L685.30 795.08 L685.40 795.51 L685.50 795.91 L685.60 796.29 L685.70 796.66 L685.80 797.02 L685.90 797.35 L686.00 797.67 L686.10 797.97 L686.10 797.98 L686.20 798.27 L686.30 798.55 L686.40 798.82 L686.50 799.08 L686.60 799.32 L686.70 799.56 L686.80 799.79 L686.90 800.00 L687.00 800.21 L687.10 800.41 L687.10 800.41 L687.20 800.60 L687.30 800.79 L687.40 800.97 L687.50 801.14 L687.60 801.31 L687.70 801.47 L687.80 801.63 L687.90 801.78 L688.00 801.92 L688.10 802.05 L688.10 802.06 L688.20 802.19 L688.30 802.32 L688.40 802.45 L688.50 802.57 L688.60 802.69 L688.70 802.80 L688.80 802.91 L688.90 803.02 L689.00 803.12 L689.10 803.22 L689.10 803.22 L689.20 803.32 L689.30 803.41 L689.40 803.50 L689.50 803.59 L689.60 803.68 L689.70 803.76 L689.80 803.84 L689.90 803.92 L690.00 804.00 L690.10 804.07 L690.10 804.07 L690.20 804.15 L690.30 804.22 L690.40 804.28 L690.50 804.35 L690.60 804.42 L690.70 804.48 L690.80 804.54 L690.90 804.60 L691.00 804.66 L691.10 804.71 L691.10 804.72 L691.20 804.77 L691.30 804.83 L691.40 804.88 L691.50 804.93 L691.60 804.98 L691.70 805.03 L691.80 805.08 L691.90 805.12 L692.00 805.17 L692.10 805.21 L692.10 805.21 L692.20 805.26 L692.30 805.30 L692.40 805.34 L692.50 805.38 L692.60 805.42 L692.70 805.46 L692.80 805.50 L692.90 805.53 L693.00 805.57 L693.10 805.60 L693.10 805.60 L693.20 805.64 L693.30 805.67 L693.40 805.71 L693.50 805.74 L694.10 805.92 L695.10 806.17 L696.10 806.38 L697.10 806.56 L698.10 806.71 L699.10 806.84 L700.10 806.95 L701.10 807.04 L702.10 807.12 L703.10 807.19 L704.10 807.26 L705.10 807.31 L706.10 807.36 L707.10 807.41 L708.10 807.45 L709.10 807.48 L710.10 807.51 L711.10 807.54 L712.10 807.57 L713.10 807.59 L714.10 807.62 L715.10 807.64 L716.10 807.66 L717.10 807.67 L718.10 807.69 L719.10 807.70 L720.10 807.72 L721.10 807.73 L722.10 807.74 L723.10 807.75 L724.10 807.76 L725.10 807.77 L726.10 807.78 L727.10 807.79 L728.10 807.80 L729.10 807.81 L730.10 807.81 L731.10 807.82 L732.10 807.83 L733.10 807.83 L734.10 807.84 L735.10 807.84 L736.10 807.85 L737.10 807.85 L738.10 807.86 L739.10 807.86 L740.10 807.86 L741.10 807.87 L742.10 807.87 L743.10 807.87 L744.10 807.88 L745.10 807.88 L746.10 807.88 L747.10 807.89 L748.10 807.89 L749.10 807.89 L750.10 807.89 L751.10 807.90 L752.10 807.90 L753.10 807.90 L754.10 807.90 L755.10 807.90 L756.10 807.91 L757.10 807.91 L758.10 807.91 L759.10 807.91 L760.10 807.91 L761.10 807.91 L762.10 807.92 L763.10 807.92 L764.10 807.92 L765.10 807.92 L766.10 807.92 L767.10 807.92 L768.10 807.92 L769.10 807.92 L770.10 807.92 L771.10 807.93 L772.10 807.93 L773.10 807.93 L774.10 807.93 L775.10 807.93 L776.10 807.93 L777.10 807.93 L778.10 807.93 L779.10 807.93 L780.10 807.93 L781.10 807.93 L782.10 807.93 L783.10 807.93 L784.10 807.93 L785.10 807.93 L786.10 807.93 L787.10 807.93 L788.10 807.93 L789.10 807.93 L790.10 807.93 L791.10 807.94 L792.10 807.94 L793.10 807.94 L794.10 807.94 L795.10 807.94 L796.10 807.94 L797.10 807.94 L798.10 807.94 L799.10 807.94 L800.10 807.94 L801.10 807.93 L802.10 807.93 L803.10 807.93 L804.10 807.93 L805.10 807.93 L806.10 807.93 L807.10 807.93 L808.10 807.93 L809.10 807.93 L810.10 807.93 L811.10 807.93 L812.10 807.93 L813.10 807.93 L814.10 807.93 L815.10 807.93 L816.10 807.93 L817.10 807.93 L818.10 807.93 L819.10 807.92 L820.10 807.92 L821.10 807.92 L822.10 807.92 L823.10 807.92 L824.10 807.92 L825.10 807.92 L826.10 807.92 L827.10 807.91 L828.10 807.91 L829.10 807.91 L830.10 807.91 L831.10 807.91 L832.10 807.91 L833.10 807.90 L834.10 807.90 L835.10 807.90 L836.10 807.90 L837.10 807.89 L838.10 807.89 L839.10 807.89 L840.10 807.89 L841.10 807.88 L842.10 807.88 L843.10 807.87 L844.10 807.87 L845.10 807.87 L846.10 807.86 L847.10 807.86 L848.10 807.85 L849.10 807.85 L850.10 807.84 L851.10 807.83 L852.10 807.83 L853.10 807.82 L854.10 807.81 L855.10 807.80 L856.10 807.79 L857.10 807.78 L858.10 807.77 L859.10 807.76 L860.10 807.75 L861.10 807.74 L862.10 807.72 L863.10 807.70 L864.10 807.69 L865.10 807.67 L866.10 807.64 L867.10 807.62 L868.10 807.59 L869.10 807.56 L870.10 807.53 L871.10 807.49 L872.10 807.45 L873.10 807.40 L874.10 807.34 L875.10 807.28 L876.10 807.20 L877.10 807.11 L878.10 807.01 L879.10 806.89 L880.10 806.74 L881.10 806.56 L881.43 806.49 L881.53 806.47 L881.63 806.45 L881.73 806.43 L881.83 806.41 L881.93 806.38 L882.03 806.36 L882.10 806.34 L882.13 806.33 L882.23 806.31 L882.33 806.28 L882.43 806.26 L882.53 806.23 L882.63 806.20 L882.73 806.17 L882.83 806.15 L882.93 806.12 L883.03 806.09 L883.10 806.06 L883.13 806.05 L883.23 806.02 L883.33 805.99 L883.43 805.96 L883.53 805.92 L883.63 805.89 L883.73 805.85 L883.83 805.82 L883.93 805.78 L884.03 805.74 L884.10 805.71 L884.13 805.70 L884.23 805.66 L884.33 805.62 L884.43 805.57 L884.53 805.53 L884.63 805.48 L884.73 805.44 L884.83 805.39 L884.93 805.34 L885.03 805.29 L885.10 805.25 L885.13 805.24 L885.23 805.18 L885.33 805.13 L885.43 805.07 L885.53 805.01 L885.63 804.95 L885.73 804.89 L885.83 804.82 L885.93 804.76 L886.03 804.69 L886.10 804.64 L886.13 804.62 L886.23 804.54 L886.33 804.47 L886.43 804.39 L886.53 804.31 L886.63 804.23 L886.73 804.14 L886.83 804.05 L886.93 803.96 L887.03 803.86 L887.10 803.79 L887.13 803.76 L887.23 803.66 L887.33 803.55 L887.43 803.44 L887.53 803.33 L887.63 803.21 L887.73 803.09 L887.83 802.96 L887.93 802.82 L888.03 802.69 L888.10 802.58 L888.13 802.54 L888.23 802.39 L888.33 802.23 L888.43 802.07 L888.53 801.90 L888.63 801.72 L888.73 801.53 L888.83 801.34 L888.93 801.14 L889.03 800.92 L889.10 800.77 L889.13 800.70 L889.23 800.47 L889.33 800.22 L889.43 799.97 L889.53 799.70 L889.63 799.42 L889.73 799.12 L889.83 798.80 L889.93 798.47 L890.03 798.12 L890.10 797.87 L890.13 797.76 L890.23 797.37 L890.33 796.96 L890.43 796.52 L890.53 796.06 L890.63 795.57 L890.73 795.05 L890.83 794.50 L890.93 793.91 L891.03 793.28 L891.10 792.82 L891.13 792.61 L891.23 791.90 L891.33 791.13 L891.43 790.31 L891.53 789.43 L891.63 788.48 L891.73 787.45 L891.83 786.35 L891.93 785.15 L892.03 783.86 L892.10 782.88 L892.13 782.45 L892.23 780.92 L892.33 779.25 L892.43 777.43 L892.53 775.43 L892.63 773.23 L892.73 770.81 L892.83 768.13 L892.93 765.17 L893.03 761.87 L893.10 759.34 L893.13 758.20 L893.23 754.08 L893.33 749.46 L893.43 744.25 L893.53 738.36 L893.63 731.66 L893.73 724.02 L893.83 715.26 L893.93 705.20 L894.03 693.58 L894.10 684.38 L894.13 680.13 L894.23 664.51 L894.33 646.34 L894.43 625.20 L894.53 600.67 L894.63 572.38 L894.73 540.13 L894.83 504.08 L894.93 465.01 L895.03 424.69 L895.10 397.27 L895.13 386.11 L895.23 353.41 L895.33 331.23 L895.43 323.31 L895.53 331.13 L895.63 353.24 L895.73 385.89 L895.83 424.45 L895.93 464.77 L896.03 503.85 L896.10 529.48 L896.13 539.93 L896.23 572.20 L896.33 600.51 L896.43 625.06 L896.53 646.22 L896.63 664.41 L896.73 680.05 L896.83 693.51 L896.93 705.14 L897.03 715.21 L897.10 721.47 L897.13 723.97 L897.23 731.62 L897.33 738.32 L897.43 744.22 L897.53 749.43 L897.63 754.06 L897.73 758.17 L897.83 761.85 L897.93 765.15 L898.03 768.12 L898.10 770.02 L898.13 770.79 L898.23 773.22 L898.33 775.41 L898.43 777.41 L898.53 779.24 L898.63 780.91 L898.73 782.44 L898.83 783.85 L898.93 785.14 L899.03 786.34 L899.10 787.12 L899.13 787.45 L899.23 788.47 L899.33 789.42 L899.43 790.30 L899.53 791.13 L899.63 791.89 L899.73 792.61 L899.83 793.28 L899.93 793.91 L900.03 794.50 L900.10 794.89 L900.13 795.05 L900.23 795.57 L900.33 796.06 L900.43 796.52 L900.53 796.96 L900.63 797.37 L900.73 797.76 L900.83 798.12 L900.93 798.47 L901.03 798.80 L901.10 799.02 L901.13 799.12 L901.23 799.41 L901.33 799.70 L901.43 799.97 L901.53 800.22 L901.63 800.47 L901.73 800.70 L901.83 800.92 L901.93 801.14 L902.03 801.34 L902.10 801.48 L902.13 801.54 L902.23 801.72 L902.33 801.90 L902.43 802.07 L902.53 802.23 L902.63 802.39 L902.73 802.54 L902.83 802.69 L902.93 802.82 L903.03 802.96 L903.10 803.05 L903.13 803.09 L903.23 803.21 L903.33 803.33 L903.43 803.44 L903.53 803.56 L903.63 803.66 L903.73 803.76 L903.83 803.86 L903.93 803.96 L904.03 804.05 L904.10 804.11 L904.13 804.14 L904.23 804.23 L904.33 804.31 L904.43 804.39 L904.53 804.47 L904.63 804.55 L904.73 804.62 L904.83 804.69 L904.93 804.76 L905.03 804.82 L905.10 804.87 L905.13 804.89 L905.23 804.95 L905.33 805.01 L905.43 805.07 L905.53 805.13 L905.63 805.18 L905.73 805.24 L905.83 805.29 L905.93 805.34 L906.03 805.39 L906.10 805.42 L906.13 805.44 L906.23 805.49 L906.33 805.53 L906.43 805.58 L906.53 805.62 L906.63 805.66 L906.73 805.70 L906.83 805.74 L906.93 805.78 L907.03 805.82 L907.10 805.84 L907.13 805.85 L907.23 805.89 L907.33 805.93 L907.43 805.96 L907.53 805.99 L907.63 806.03 L907.73 806.06 L907.83 806.09 L907.93 806.12 L908.03 806.15 L908.10 806.17 L908.13 806.18 L908.23 806.20 L908.33 806.23 L908.43 806.26 L908.53 806.29 L908.63 806.31 L908.73 806.34 L908.83 806.36 L908.93 806.38 L909.03 806.41 L909.10 806.42 L909.13 806.43 L909.23 806.45 L909.33 806.48 L909.43 806.50 L910.10 806.63 L911.10 806.80 L912.10 806.94 L913.10 807.05 L914.10 807.15 L915.10 807.23 L916.10 807.30 L917.10 807.37 L918.10 807.42 L919.10 807.47 L920.10 807.51 L921.10 807.55 L922.10 807.58 L923.10 807.61 L924.10 807.63 L925.10 807.66 L926.10 807.68" stroke="#000" stroke-width="3"/>
<path d="M112.10 807.05 L148.00 807.05" stroke="#d60000" stroke-width="3" stroke-dasharray="9.30 8.78" stroke-dashoffset="17.66"/>
<path d="M148.00 807.05 L149.60 807.05 L149.60 801.20 L151.50 800.60 L153.40 800.20 L153.40 791.20 L152.10 790.80 L152.10 783.80 L152.35 783.80 L152.35 790.50 L153.55 791.00 L153.55 800.30 L154.80 803.50 L156.00 806.30 L157.00 807.05" stroke="#d60000" stroke-width="3" stroke-dasharray="9.30 8.78" stroke-dashoffset="15.98"/>
<path d="M157.00 807.05 L314.00 807.05" stroke="#d60000" stroke-width="3" stroke-dasharray="9.30 8.78" stroke-dashoffset="0.50"/>
<path d="M314.00 807.05 L315.50 807.05 L316.80 806.00 L316.80 802.00 L319.00 801.50 L319.00 798.80 L319.50 798.50 L319.50 786.50 L319.75 786.50 L319.75 798.20 L321.50 798.50 L322.80 799.00 L322.80 803.50 L325.00 804.50 L325.00 806.30 L327.00 807.05" stroke="#d60000" stroke-width="3" stroke-dasharray="9.30 8.78" stroke-dashoffset="15.85"/>
<path d="M327.00 807.05 L493.00 807.05" stroke="#d60000" stroke-width="3" stroke-dasharray="9.30 8.78" stroke-dashoffset="13.58"/>
<path d="M493.00 807.05 L497.00 805.30 L500.20 802.00 L502.50 799.00 L502.70 796.50 L502.70 746.00 L504.90 742.50 L505.00 616.65 L505.20 725.50 L507.10 733.50 L507.10 802.50 L508.50 804.00 L511.00 804.60 L513.50 807.05" stroke="#d60000" stroke-width="3" stroke-dasharray="9.30 8.78" stroke-dashoffset="2.21"/>
<path d="M513.50 807.05 L517.50 806.60 L520.00 805.60 L524.50 806.00 L527.00 807.05 L598.00 807.05" stroke="#d60000" stroke-width="3" stroke-dasharray="9.30 8.78" stroke-dashoffset="14.31"/>
<path d="M598.00 807.05 L601.50 806.70 L605.90 805.00 L609.50 801.90 L612.00 799.00" stroke="#d60000" stroke-width="3" stroke-dasharray="9.30 8.78" stroke-dashoffset="10.92"/>
<path d="M612.00 799.00 L613.40 797.00 L613.60 795.50 L613.60 786.50 L615.70 780.50 L615.70 736.50 L617.00 728.00 L617.00 160.00 L619.00 139.20 L619.25 724.00 L620.90 728.50 L620.90 773.00 L623.00 782.00 L623.00 789.00 L625.70 795.50 L625.70 803.00 L628.00 806.20 L632.00 807.05" stroke="#d60000" stroke-width="3" stroke-dasharray="9.30 8.78" stroke-dashoffset="15.75"/>
<path d="M632.00 807.05 L772.00 807.05" stroke="#d60000" stroke-width="3" stroke-dasharray="9.30 8.78" stroke-dashoffset="16.88"/>
<path d="M772.00 807.05 L775.50 807.05 L777.50 806.30 L779.50 803.00 L783.30 802.60 L784.60 799.50" stroke="#d60000" stroke-width="3" stroke-dasharray="9.30 8.78" stroke-dashoffset="13.83"/>
<path d="M784.60 799.50 L785.30 797.30 L785.30 789.90 L787.20 789.00 L787.40 779.00 L787.30 770.00 L787.30 735.50 L788.90 728.00 L789.00 560.00 L788.50 455.00 L788.60 386.60 L788.90 455.00 L790.30 500.00 L790.50 727.00 L791.50 734.50 L791.50 762.00 L793.00 771.00 L793.00 796.50 L796.50 803.00 L800.00 804.60 L803.00 806.20 L806.00 807.05" stroke="#d60000" stroke-width="3" stroke-dasharray="9.30 8.78" stroke-dashoffset="15.16"/>
<path d="M806.00 807.05 L926.30 807.05" stroke="#d60000" stroke-width="3" stroke-dasharray="9.30 8.78" stroke-dashoffset="13.78"/>
</g>
<defs><clipPath id="k0"><path clip-rule="evenodd" d="M-60 -130H171.2V70H-60ZM-3.00 -15H22.90V4H-3.00ZM37.50 -15H55.00V4H37.50Z"/></clipPath><clipPath id="k1"><path clip-rule="evenodd" d="M-60 -130H171.2V70H-60ZM-3.00 -15H22.90V4H-3.00ZM37.50 -15H55.00V4H37.50Z"/></clipPath><clipPath id="k2"><path clip-rule="evenodd" d="M-60 -130H171.2V70H-60ZM-3.00 -15H22.90V4H-3.00ZM37.50 -15H55.00V4H37.50Z"/></clipPath><clipPath id="k3"><path clip-rule="evenodd" d="M-60 -130H171.2V70H-60ZM-3.00 -15H22.90V4H-3.00ZM37.50 -15H55.00V4H37.50Z"/></clipPath><clipPath id="k4"><path clip-rule="evenodd" d="M-60 -130H171.2V70H-60ZM-3.00 -15H22.90V4H-3.00ZM37.50 -15H55.00V4H37.50Z"/></clipPath><clipPath id="ky"><path clip-rule="evenodd" d="M-60 -200H1300V80H-60ZM63.70 -15.00H89.60V4.00H63.70ZM104.20 -15.00H121.70V4.00H104.20ZM1014.79 -50.64H1031.24V-38.57H1014.79ZM1040.51 -50.64H1051.62V-38.57H1040.51Z"/></clipPath></defs>
<g class="b" font-size="100" stroke="#000" stroke-width="1" stroke-linejoin="round">
<text transform="translate(144.02 851.70) scale(0.4740 0.4825)" xml:space="preserve" style="white-space:pre">8</text>
<text transform="translate(265.84 851.70) scale(0.4740 0.4825)" clip-path="url(#k0)" xml:space="preserve" style="white-space:pre">10</text>
<text transform="translate(400.04 851.70) scale(0.4740 0.4825)" clip-path="url(#k1)" xml:space="preserve" style="white-space:pre">12</text>
<text transform="translate(534.24 851.70) scale(0.4740 0.4825)" clip-path="url(#k2)" xml:space="preserve" style="white-space:pre">14</text>
<text transform="translate(668.44 851.70) scale(0.4740 0.4825)" clip-path="url(#k3)" xml:space="preserve" style="white-space:pre">16</text>
<text transform="translate(802.64 851.70) scale(0.4740 0.4825)" clip-path="url(#k4)" xml:space="preserve" style="white-space:pre">18</text>
<text transform="translate(81.44 748.98) scale(0.4740 0.4825)" xml:space="preserve" style="white-space:pre">2</text>
<text transform="translate(81.44 672.26) scale(0.4740 0.4825)" xml:space="preserve" style="white-space:pre">4</text>
<text transform="translate(81.44 595.54) scale(0.4740 0.4825)" xml:space="preserve" style="white-space:pre">6</text>
<text transform="translate(81.44 518.82) scale(0.4740 0.4825)" xml:space="preserve" style="white-space:pre">8</text>
<text transform="translate(55.08 442.10) scale(0.4740 0.4825)" clip-path="url(#k0)" xml:space="preserve" style="white-space:pre">10</text>
<text transform="translate(55.08 365.38) scale(0.4740 0.4825)" clip-path="url(#k1)" xml:space="preserve" style="white-space:pre">12</text>
<text transform="translate(55.08 288.66) scale(0.4740 0.4825)" clip-path="url(#k2)" xml:space="preserve" style="white-space:pre">14</text>
<text transform="translate(55.08 211.94) scale(0.4740 0.4825)" clip-path="url(#k3)" xml:space="preserve" style="white-space:pre">16</text>
<text transform="translate(55.08 135.22) scale(0.4740 0.4825)" clip-path="url(#k4)" xml:space="preserve" style="white-space:pre">18</text>
<text transform="translate(55.08 58.50) scale(0.4740 0.4825)" xml:space="preserve" style="white-space:pre">20</text>
<text transform="translate(927.30 893.30) scale(0.4725 0.4938)" text-anchor="end">Excitation energy (MeV)</text>
<text transform="translate(44.70 513.00) rotate(-90) scale(0.4725 0.4938)" clip-path="url(#ky)" xml:space="preserve" style="white-space:pre"><tspan x="0.00">E1 strength (fm</tspan><tspan x="728.89" dy="-41.11" font-size="63.49">2</tspan><tspan x="762.69" dy="41.11"> MeV</tspan><tspan x="995.56" dy="-41.11" font-size="63.49">-1</tspan><tspan x="1045.08" dy="41.11">)</tspan></text>
</g>
<rect x="153.2" y="21.8" width="382.4" height="177.6" fill="#fff" stroke="#000" stroke-width="1.7"/>
<path d="M167.1 66.6H234.7" stroke="#000" stroke-width="3.1" fill="none"/>
<path d="M167.1 155.4H234.7" stroke="#d60000" stroke-width="3.1" stroke-dasharray="9.4 8.9" fill="none"/>
<text font-size="42.50" y="74.40"><tspan x="247.20" textLength="30.38" lengthAdjust="spacingAndGlyphs">Δ</tspan><tspan x="275.00" textLength="114.50" lengthAdjust="spacingAndGlyphs">NNLO</tspan><tspan x="387.30" dy="14.4" font-size="29.30" letter-spacing="-1">GO</tspan><tspan x="431.00" dy="-14.4" textLength="95.00" lengthAdjust="spacingAndGlyphs">(394)</tspan></text>
<text font-size="42.50" y="162.40"><tspan x="247.20" textLength="30.38" lengthAdjust="spacingAndGlyphs">Δ</tspan><tspan x="275.00" textLength="114.50" lengthAdjust="spacingAndGlyphs">NNLO</tspan><tspan x="387.30" dy="14.4" font-size="29.30" letter-spacing="-1">GO</tspan><tspan x="431.00" dy="-14.4" textLength="95.00" lengthAdjust="spacingAndGlyphs">(450)</tspan></text>
</svg>
</body></html>
